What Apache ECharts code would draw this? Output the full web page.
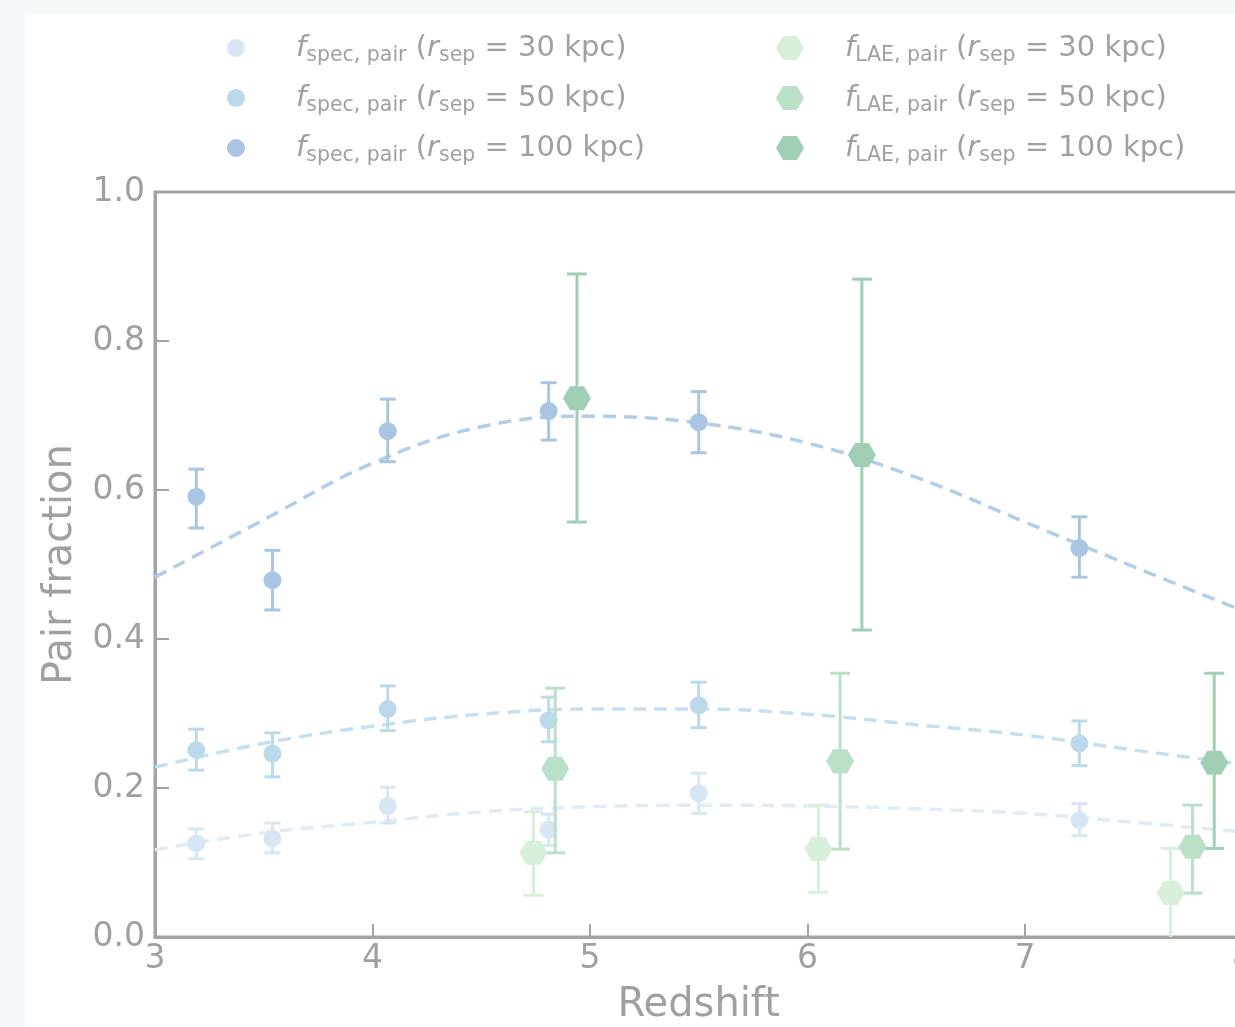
<!DOCTYPE html>
<html>
<head>
<meta charset="utf-8">
<script src="https://cdn.jsdelivr.net/npm/echarts@6/dist/echarts.min.js"></script>
<style>
html, body { margin: 0; padding: 0; width: 1235px; height: 1027px; overflow: hidden; background: #f4fafc; }
#card { position: absolute; left: 25px; top: 14px; width: 1210px; height: 1013px; background: #fff; }
#chart { position: absolute; left: 0; top: 0; width: 1260px; height: 1027px; }
</style>
</head>
<body>
<div id="card"></div>
<div id="chart"></div>
<script>
// redshift of the spectroscopic pair bins
var specX = [3.19, 3.54, 4.07, 4.81, 5.50, 7.25];
var spec30 = [0.126, 0.132, 0.176, 0.144, 0.193, 0.157];
var spec30Lo = [0.105, 0.113, 0.153, 0.123, 0.166, 0.136];
var spec30Hi = [0.145, 0.153, 0.201, 0.165, 0.220, 0.179];
var spec50 = [0.251, 0.246, 0.306, 0.291, 0.311, 0.260];
var spec50Lo = [0.224, 0.215, 0.277, 0.262, 0.281, 0.230];
var spec50Hi = [0.279, 0.274, 0.337, 0.322, 0.342, 0.290];
var spec100 = [0.591, 0.479, 0.679, 0.706, 0.691, 0.522];
var spec100Lo = [0.549, 0.439, 0.638, 0.667, 0.650, 0.483];
var spec100Hi = [0.628, 0.519, 0.722, 0.744, 0.732, 0.564];

// LAE pair fractions (shifted in redshift per separation)
var lae30X = [4.74, 6.05, 7.67];
var lae30 = [0.113, 0.118, 0.059];
var lae30Lo = [0.056, 0.060, -0.02];
var lae30Hi = [0.168, 0.177, 0.119];
var lae50X = [4.84, 6.15, 7.77];
var lae50 = [0.226, 0.236, 0.121];
var lae50Lo = [0.113, 0.118, 0.059];
var lae50Hi = [0.334, 0.354, 0.177];
var lae100X = [4.94, 6.25, 7.87];
var lae100 = [0.723, 0.647, 0.234];
var lae100Lo = [0.557, 0.412, 0.119];
var lae100Hi = [0.890, 0.883, 0.354];

// dashed fit curves
var fitX = [3, 3.5, 4, 4.5, 5, 5.5, 6, 6.5, 7, 7.5, 8];
var fit30 = [0.117, 0.140, 0.154, 0.168, 0.175, 0.177, 0.176, 0.172, 0.166, 0.154, 0.141];
var fit50 = [0.228, 0.260, 0.283, 0.299, 0.306, 0.306, 0.299, 0.285, 0.271, 0.251, 0.232];
var fit100 = [0.483, 0.560, 0.636, 0.685, 0.699, 0.690, 0.663, 0.617, 0.557, 0.497, 0.438];

var xTicks = [3, 4, 5, 6, 7, 8];
var yTicks = ['0.0', '0.2', '0.4', '0.6', '0.8', '1.0'];

var C = {
    s30: '#d6e6f4', s50: '#bcd9ec', s100: '#a9c5e1',
    l30: '#d8efd9', l50: '#bae0c8', l100: '#a1cfb6',
    f30: '#dfecf6', f50: '#c6dff0', f100: '#b4cde6',
    text: '#a0a0a0', axis: '#a3a3a3'
};
var FONT = 'DejaVu Sans';
var HEX = 'path://M0,12 L7,0 L21,0 L28,12 L21,24 L7,24 Z';

var labels = {
    spec30: '{f|f}{s|spec, pair}{n| (}{f|r}{s|sep}{n| = 30 kpc)}',
    spec50: '{f|f}{s|spec, pair}{n| (}{f|r}{s|sep}{n| = 50 kpc)}',
    spec100: '{f|f}{s|spec, pair}{n| (}{f|r}{s|sep}{n| = 100 kpc)}',
    lae30: '{f|f}{s|LAE, pair}{n| (}{f|r}{s|sep}{n| = 30 kpc)}',
    lae50: '{f|f}{s|LAE, pair}{n| (}{f|r}{s|sep}{n| = 50 kpc)}',
    lae100: '{f|f}{s|LAE, pair}{n| (}{f|r}{s|sep}{n| = 100 kpc)}'
};

function zip(xs, ys) {
    return xs.map(function (x, i) { return [x, ys[i]]; });
}

function errBars(xs, lo, hi, color, cap, z) {
    return {
        type: 'custom',
        z: z,
        clip: true,
        silent: true,
        data: xs.map(function (x, i) { return [x, lo[i], hi[i]]; }),
        encode: { x: 0, y: [1, 2] },
        renderItem: function (params, api) {
            var top = api.coord([api.value(0), api.value(2)]);
            var bot = api.coord([api.value(0), api.value(1)]);
            var h = cap / 2;
            var st = { stroke: color, lineWidth: 3 };
            return {
                type: 'group',
                children: [
                    { type: 'line', shape: { x1: top[0], y1: top[1], x2: bot[0], y2: bot[1] }, style: st },
                    { type: 'line', shape: { x1: top[0] - h, y1: top[1], x2: top[0] + h, y2: top[1] }, style: st },
                    { type: 'line', shape: { x1: bot[0] - h, y1: bot[1], x2: bot[0] + h, y2: bot[1] }, style: st }
                ]
            };
        }
    };
}

function fitLine(ys, color) {
    return {
        type: 'line',
        z: 1,
        data: zip(fitX, ys),
        smooth: 0.4,
        symbol: 'none',
        silent: true,
        lineStyle: { color: color, width: 3.5, type: [13, 8] }
    };
}

function points(name, xs, ys, color, symbol, size, z) {
    return {
        name: name,
        type: 'scatter',
        z: z,
        data: zip(xs, ys),
        symbol: symbol,
        symbolSize: size,
        itemStyle: { color: color, opacity: 1 }
    };
}

var richText = {
    f: { fontFamily: FONT, fontSize: 29, fontStyle: 'italic', lineHeight: 36, color: C.text },
    s: { fontFamily: FONT, fontSize: 20.5, lineHeight: 20, verticalAlign: 'bottom', color: C.text },
    n: { fontFamily: FONT, fontSize: 29, lineHeight: 36, color: C.text }
};

function legendBox(names, icon, left, itemH, gap) {
    return {
        data: names.map(function (n) { return { name: n, icon: icon }; }),
        orient: 'vertical',
        left: left,
        top: 30,
        padding: 0,
        itemWidth: 28,
        itemHeight: itemH,
        itemGap: 14,
        selectedMode: false,
        formatter: function (n) { return labels[n]; },
        textStyle: {
            fontFamily: FONT, fontSize: 29, lineHeight: 36, color: C.text,
            padding: [0, 0, 0, gap],
            rich: richText
        }
    };
}

var chart = echarts.init(document.getElementById('chart'), null, { renderer: 'canvas' });
chart.setOption({
    animation: false,
    backgroundColor: 'transparent',
    textStyle: { fontFamily: FONT },
    legend: [
        legendBox(['spec30', 'spec50', 'spec100'], 'circle', 227, 18, 41),
        legendBox(['lae30', 'lae50', 'lae100'], HEX, 776, 24, 36)
    ],
    grid: {
        left: 155, right: 17.5, top: 192, bottom: 90,
        outerBoundsMode: 'none',
        containLabel: false,
        show: true, borderColor: C.axis, borderWidth: 3, backgroundColor: 'transparent'
    },
    xAxis: {
        type: 'value', min: 3, max: 8, interval: 1,
        name: 'Redshift', nameLocation: 'middle', nameGap: 49,
        nameTextStyle: { fontFamily: FONT, fontSize: 40, color: C.text },
        axisLine: { lineStyle: { color: C.axis, width: 3 } },
        axisTick: { inside: true, length: 13, lineStyle: { color: C.axis, width: 2 } },
        axisLabel: {
            margin: 6, fontFamily: FONT, fontSize: 33, color: C.text,
            formatter: function (v) { return xTicks.indexOf(v) >= 0 ? String(v) : ''; }
        },
        splitLine: { show: false }
    },
    yAxis: {
        type: 'value', min: 0, max: 1, interval: 0.2,
        name: 'Pair fraction', nameLocation: 'middle', nameGap: 74,
        nameTextStyle: { fontFamily: FONT, fontSize: 40, color: C.text },
        axisLine: { lineStyle: { color: C.axis, width: 3 } },
        axisTick: { inside: true, length: 14, lineStyle: { color: C.axis, width: 2 } },
        axisLabel: {
            margin: 10, fontFamily: FONT, fontSize: 33, color: C.text,
            formatter: function (v) { return yTicks[Math.round(v * 5)]; }
        },
        splitLine: { show: false }
    },
    series: [
        fitLine(fit30, C.f30),
        fitLine(fit50, C.f50),
        fitLine(fit100, C.f100),
        errBars(specX, spec30Lo, spec30Hi, C.s30, 16, 2),
        errBars(specX, spec50Lo, spec50Hi, C.s50, 16, 2),
        errBars(specX, spec100Lo, spec100Hi, C.s100, 16, 2),
        points('spec30', specX, spec30, C.s30, 'circle', 18, 3),
        points('spec50', specX, spec50, C.s50, 'circle', 18, 3),
        points('spec100', specX, spec100, C.s100, 'circle', 18, 3),
        errBars(lae30X, lae30Lo, lae30Hi, C.l30, 20, 4),
        errBars(lae50X, lae50Lo, lae50Hi, C.l50, 20, 4),
        errBars(lae100X, lae100Lo, lae100Hi, C.l100, 20, 4),
        points('lae30', lae30X, lae30, C.l30, HEX, [28, 24], 5),
        points('lae50', lae50X, lae50, C.l50, HEX, [28, 24], 5),
        points('lae100', lae100X, lae100, C.l100, HEX, [28, 24], 5)
    ]
});
</script>
</body>
</html>
